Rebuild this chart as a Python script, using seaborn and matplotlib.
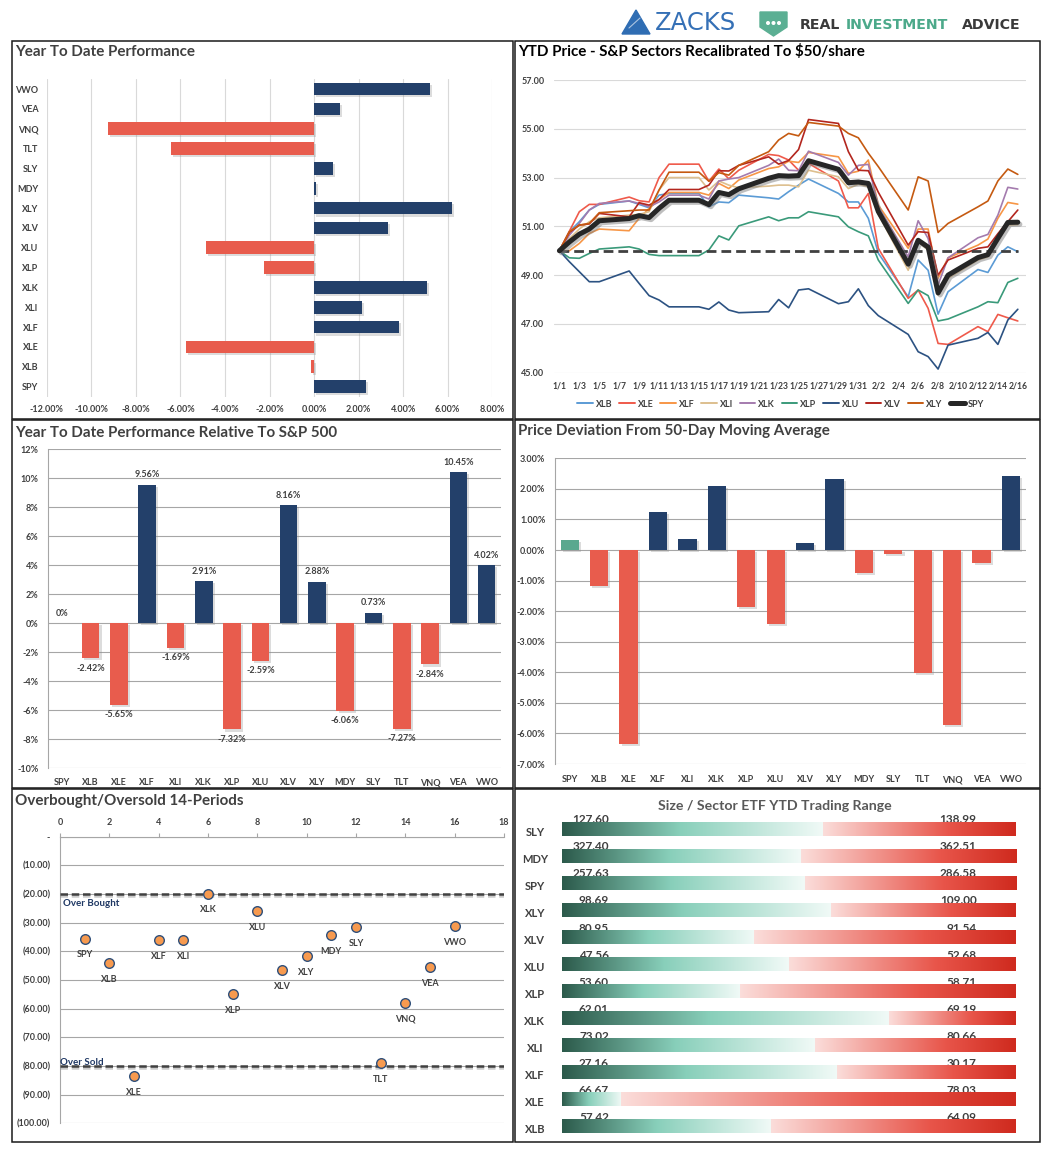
import matplotlib
matplotlib.use("Agg")
import matplotlib.pyplot as plt
import matplotlib.patheffects as pe
from matplotlib.colors import LinearSegmentedColormap
from matplotlib.lines import Line2D
from matplotlib.patches import Rectangle, Polygon, Circle
import numpy as np
import pandas as pd
import seaborn as sns

# ---- data ----
tickers = ["SPY", "XLB", "XLE", "XLF", "XLI", "XLK", "XLP", "XLU", "XLV", "XLY",
           "MDY", "SLY", "TLT", "VNQ", "VEA", "VWO"]
ytd_perf = [2.32, -0.12, -5.75, 3.80, 2.14, 5.05, -2.26, -4.86, 3.30, 6.17,
            0.10, 0.85, -6.43, -9.24, 1.15, 5.19]
rel_perf = [0.00, -2.42, -5.65, 9.56, -1.69, 2.91, -7.32, -2.59, 8.16, 2.88,
            -6.06, 0.73, -7.27, -2.84, 10.45, 4.02]
dev_50dma = [0.32, -1.17, -6.33, 1.23, 0.35, 2.09, -1.86, -2.41, 0.22, 2.31,
             -0.75, -0.13, -4.02, -5.71, -0.43, 2.41]
osc_pos = [1, 2, 3, 4, 5, 6, 7, 8, 9, 10, 11, 12, 13, 14, 15, 16]
osc_14 = [-35.7, -44.2, -83.6, -36.2, -36.2, -20.0, -55.0, -26.0, -46.6, -41.7,
          -34.4, -31.6, -79.1, -58.1, -45.6, -31.3]

price_dates = ["1/1", "1/2", "1/3", "1/4", "1/5", "1/8", "1/9", "1/10", "1/11", "1/12",
               "1/15", "1/16", "1/17", "1/18", "1/19", "1/22", "1/23", "1/24", "1/25", "1/26",
               "1/29", "1/30", "1/31", "2/1", "2/2", "2/5", "2/6", "2/7", "2/8", "2/9",
               "2/12", "2/13", "2/14", "2/15", "2/16"]
xlb = [50.00, 50.78, 51.19, 51.67, 51.90, 52.04, 51.90, 51.76, 52.28, 52.35, 52.35, 51.80,
       52.00, 51.97, 52.28, 52.17, 52.12, 52.42, 52.69, 52.94, 52.35, 52.00, 52.00, 51.33,
       49.90, 48.11, 49.62, 49.20, 47.40, 48.32, 49.23, 49.11, 49.82, 50.16, 49.96]
xle = [50.00, 50.80, 51.60, 51.90, 51.90, 52.20, 52.05, 52.00, 53.00, 53.55, 53.55, 52.85,
       53.35, 52.95, 53.30, 53.95, 53.90, 53.72, 53.30, 53.58, 52.86, 51.76, 51.76, 52.35,
       50.10, 48.05, 48.39, 47.64, 46.20, 46.16, 46.89, 46.68, 47.39, 47.25, 47.12]
xlf = [50.00, 50.00, 50.30, 50.71, 50.89, 50.82, 51.33, 51.73, 52.10, 52.39, 52.39, 52.28,
       52.76, 52.55, 52.90, 53.37, 53.44, 53.67, 53.62, 54.03, 53.85, 53.17, 53.26, 53.72,
       51.87, 50.10, 50.89, 50.89, 48.87, 49.71, 50.23, 50.48, 51.33, 51.98, 51.91]
xli = [50.00, 50.50, 50.89, 51.19, 51.35, 51.46, 51.49, 51.60, 52.49, 53.00, 53.00, 52.49,
       52.86, 52.69, 52.58, 52.65, 52.69, 52.69, 52.62, 53.30, 53.03, 52.55, 52.73, 52.62,
       51.50, 49.20, 50.37, 50.03, 48.18, 48.87, 49.62, 49.75, 50.44, 51.05, 51.07]
xlk = [50.00, 50.64, 51.12, 51.67, 51.94, 52.04, 51.94, 51.80, 52.00, 52.28, 52.28, 52.12,
       52.86, 52.94, 53.00, 53.50, 53.76, 53.30, 53.28, 54.08, 53.62, 53.10, 53.50, 53.54,
       51.80, 49.75, 51.23, 50.50, 48.60, 49.71, 50.53, 50.67, 51.46, 52.60, 52.53]
xlp = [50.00, 49.71, 49.69, 49.89, 50.07, 50.16, 50.07, 49.85, 49.80, 49.80, 49.80, 50.03,
       50.61, 50.44, 51.02, 51.39, 51.23, 51.35, 51.35, 51.60, 51.39, 50.98, 50.78, 50.61,
       49.62, 47.84, 48.39, 48.16, 47.12, 47.20, 47.70, 47.91, 47.87, 48.70, 48.87]
xlu = [50.00, 49.55, 49.14, 48.73, 48.73, 49.17, 48.66, 48.16, 47.98, 47.70, 47.70, 47.60,
       47.90, 47.57, 47.46, 47.50, 48.00, 47.66, 48.39, 48.44, 47.83, 47.91, 48.44, 47.75,
       47.34, 46.57, 45.86, 45.66, 45.15, 46.13, 46.41, 46.65, 46.16, 47.16, 47.60]
xlv = [50.00, 50.75, 51.05, 51.10, 51.53, 51.39, 51.97, 51.87, 52.10, 52.51, 52.51, 52.69,
       53.28, 53.27, 53.50, 53.85, 53.55, 53.70, 54.15, 55.38, 55.22, 54.06, 53.30, 53.28,
       52.40, 50.23, 50.78, 50.75, 49.00, 49.62, 50.10, 50.16, 50.70, 51.19, 51.67]
xly = [50.00, 50.78, 51.05, 51.12, 51.56, 51.64, 51.67, 51.67, 52.49, 53.22, 53.22, 52.85,
       53.20, 53.10, 53.50, 54.06, 54.54, 54.81, 54.71, 55.26, 55.11, 54.81, 54.63, 54.00,
       53.45, 51.67, 53.03, 52.86, 50.75, 51.12, 51.80, 52.04, 52.86, 53.35, 53.13]
spy = [50.00, 50.36, 50.68, 50.89, 51.23, 51.32, 51.44, 51.36, 51.74, 52.07, 52.07, 51.89,
       52.39, 52.30, 52.54, 52.97, 53.08, 53.06, 53.08, 53.69, 53.34, 52.79, 52.82, 52.76,
       51.61, 49.45, 50.43, 50.15, 48.27, 49.00, 49.72, 49.84, 50.51, 51.16, 51.17]

range_tickers = ["SLY", "MDY", "SPY", "XLY", "XLV", "XLU", "XLP", "XLK", "XLI", "XLF", "XLE", "XLB"]
range_low = [127.60, 327.40, 257.63, 98.69, 80.95, 47.56, 53.60, 62.01, 73.02, 27.16, 66.67, 57.42]
range_high = [138.99, 362.51, 286.58, 109.00, 91.54, 52.68, 58.71, 69.19, 80.66, 30.17, 78.03, 64.09]
range_pos = [0.575, 0.526, 0.535, 0.593, 0.424, 0.500, 0.393, 0.722, 0.559, 0.606, 0.130, 0.461]

# ---- style ----
NAVY = "#23406A"
RED = "#E85C4D"
TEAL = "#5AA88F"
TXT = "#404040"
line_colors = {"XLB": "#5B9BD5", "XLE": "#EF5A4B", "XLF": "#F79646", "XLI": "#DDBF8E",
               "XLK": "#A47BAE", "XLP": "#3A9A7A", "XLU": "#2C5282", "XLV": "#B3261E",
               "XLY": "#C55A11", "SPY": "#262626"}

sns.set_style("white")
plt.rcParams["font.family"] = ["Lato", "DejaVu Sans"]

W, H = 1057, 1152
fig = plt.figure(figsize=(W / 100, H / 100), dpi=100)


def px_axes(x0, y0, x1, y1):
    return fig.add_axes([x0 / W, 1 - y1 / H, (x1 - x0) / W, (y1 - y0) / H])


def bar_shadow(ax):
    for p in ax.patches:
        p.set_path_effects([pe.SimplePatchShadow(offset=(1.5, -1.5), shadow_rgbFace="#8c8c8c", alpha=0.3),
                            pe.Normal()])


def bold_ticks(ax):
    for lab in ax.get_xticklabels() + ax.get_yticklabels():
        lab.set_fontweight("bold")


tick_kw = dict(labelsize=6.5, labelcolor=TXT)
bar_kw = dict(dodge=False, legend=False, saturation=1, linewidth=0)

# ---- Year To Date Performance ----
ax1 = px_axes(46.7, 79.1, 492.3, 396.6)
tl = pd.DataFrame({"ETF": tickers, "ytd": ytd_perf}).iloc[::-1]
tl["sign"] = np.where(tl["ytd"] >= 0, "up", "down")
sns.barplot(data=tl, y="ETF", x="ytd", hue="sign", palette={"up": NAVY, "down": RED},
            orient="h", width=0.64, ax=ax1, **bar_kw)
bar_shadow(ax1)
ax1.set_xlim(-12, 8)
ax1.set_xticks(range(-12, 9, 2))
ax1.set_xticklabels([f"{v:.2f}%" for v in range(-12, 9, 2)])
ax1.grid(axis="x", color="#D9D9D9", lw=0.8)
ax1.set_axisbelow(True)
sns.despine(ax=ax1, left=True, bottom=True)
ax1.tick_params(length=0, pad=6, **tick_kw)
ax1.set_xlabel("")
ax1.set_ylabel("")
bold_ticks(ax1)

# ---- YTD price lines ----
ax2 = px_axes(554, 80, 1025.7, 372.7)
dates = pd.to_datetime(["2018/" + d for d in price_dates], format="%Y/%m/%d")
prices = pd.DataFrame({"date": dates, "XLB": xlb, "XLE": xle, "XLF": xlf, "XLI": xli,
                       "XLK": xlk, "XLP": xlp, "XLU": xlu, "XLV": xlv, "XLY": xly, "SPY": spy})
long = prices.melt(id_vars="date", var_name="ETF", value_name="price")
sns.lineplot(data=long[long["ETF"] != "SPY"], x="date", y="price", hue="ETF",
             palette=line_colors, linewidth=1.2, legend=False, ax=ax2)
ax2.hlines(50, dates[0], dates[-1], colors="#404040", lw=2.0, linestyles=(0, (3.5, 1.8)), zorder=3)
sns.lineplot(data=prices, x="date", y="SPY", color=line_colors["SPY"], linewidth=3.6, ax=ax2,
             path_effects=[pe.SimpleLineShadow(offset=(1.5, -1.5), shadow_color="#7f7f7f", alpha=0.5),
                           pe.Normal()], zorder=4)
ax2.set_xlim(dates[0] - pd.Timedelta(hours=13), dates[-1] + pd.Timedelta(hours=19))
ax2.set_ylim(45, 57)
ax2.set_yticks(range(45, 58, 2))
ax2.set_yticklabels([f"{v:.2f}" for v in range(45, 58, 2)])
tick_dates = pd.date_range("2018-01-01", "2018-02-16", freq="2D")
ax2.set_xticks(tick_dates)
ax2.set_xticklabels([f"{d.month}/{d.day}" for d in tick_dates])
ax2.grid(axis="y", color="#D9D9D9", lw=0.8)
sns.despine(ax=ax2, left=True, bottom=True)
ax2.tick_params(axis="y", length=0, pad=7, **tick_kw)
ax2.tick_params(axis="x", length=0, pad=6, labelsize=6.2, labelcolor=TXT)
ax2.set_xlabel("")
ax2.set_ylabel("")
bold_ticks(ax2)
handles = [Line2D([0], [0], color=line_colors[k], lw=3.6 if k == "SPY" else 1.4) for k in line_colors]
ax2.legend(handles, list(line_colors), loc="center", bbox_to_anchor=(0.481, -0.107), ncol=10,
           frameon=False, handlelength=1.7, columnspacing=0.75, handletextpad=0.35,
           prop={"size": 6.5, "weight": "bold"}, labelcolor=TXT)

# ---- YTD relative to S&P 500 ----
ax3 = px_axes(48.3, 449.3, 500.7, 768.3)
ml = pd.DataFrame({"ETF": tickers, "rel": rel_perf})
ml["sign"] = np.where(ml["rel"] >= 0, "up", "down")
sns.barplot(data=ml, x="ETF", y="rel", hue="sign", palette={"up": NAVY, "down": RED},
            width=0.62, ax=ax3, **bar_kw)
bar_shadow(ax3)
for i, v in enumerate(rel_perf):
    txt = "0%" if v == 0 else f"{v:.2f}%"
    ax3.annotate(txt, (i, v), xytext=(0, 7 if v >= 0 else -7), textcoords="offset points",
                 ha="center", va="center", fontsize=6.5, fontweight="bold", color=TXT)
ax3.set_ylim(-10, 12)
ax3.set_yticks(range(-10, 13, 2))
ax3.set_yticklabels([f"{v}%" for v in range(-10, 13, 2)])
ax3.grid(axis="y", color="#A6A6A6", lw=0.8)
ax3.set_axisbelow(True)
sns.despine(ax=ax3, bottom=True)
ax3.spines["left"].set_color("#A6A6A6")
ax3.tick_params(axis="y", length=3, color="#A6A6A6", pad=4, **tick_kw)
ax3.tick_params(axis="x", length=0, pad=7, **tick_kw)
ax3.set_xlabel("")
ax3.set_ylabel("")
bold_ticks(ax3)

# ---- deviation from 50-day MA ----
ax4 = px_axes(555, 458.3, 1025.7, 764)
mr = pd.DataFrame({"ETF": tickers, "dev": dev_50dma})
mr["grp"] = np.where(mr["ETF"] == "SPY", "bench", np.where(mr["dev"] >= 0, "up", "down"))
sns.barplot(data=mr, x="ETF", y="dev", hue="grp", palette={"bench": TEAL, "up": NAVY, "down": RED},
            width=0.62, ax=ax4, **bar_kw)
bar_shadow(ax4)
ax4.set_ylim(-7, 3)
ax4.set_yticks(range(-7, 4))
ax4.set_yticklabels([f"{v:.2f}%" for v in range(-7, 4)])
ax4.grid(axis="y", color="#A6A6A6", lw=0.8)
ax4.set_axisbelow(True)
sns.despine(ax=ax4, bottom=True)
ax4.spines["left"].set_color("#A6A6A6")
ax4.tick_params(axis="y", length=3, color="#A6A6A6", pad=4, **tick_kw)
ax4.tick_params(axis="x", length=0, pad=8, **tick_kw)
ax4.set_xlabel("")
ax4.set_ylabel("")
bold_ticks(ax4)

# ---- Overbought / Oversold ----
ax5 = px_axes(60, 836.7, 504, 1123.3)
for lvl in (-20, -80):
    ax5.axhline(lvl, color="#404040", lw=1.8, ls=(0, (3, 1.5)), zorder=3,
                path_effects=[pe.SimpleLineShadow(offset=(0, -1.5), shadow_color="#7f7f7f", alpha=0.4),
                              pe.Normal()])
sns.scatterplot(x=osc_pos, y=osc_14, color="#F79A4F", edgecolor="#2F4F7A", linewidth=1.0,
                s=48, zorder=4, ax=ax5)
for x, y, t in zip(osc_pos, osc_14, tickers):
    ax5.annotate(t, (x, y), xytext=(0, -11.5), textcoords="offset points", ha="center",
                 va="center", fontsize=6.5, fontweight="bold", color=TXT)
ax5.text(0.13, -21.6, "Over Bought", ha="left", va="top", fontsize=7, fontweight="bold", color="#1F3864")
ax5.text(0.0, -80.4, "Over Sold", ha="left", va="bottom", fontsize=7, fontweight="bold", color="#1F3864")
ax5.set_xlim(0, 18)
ax5.set_ylim(-100, 0)
ax5.xaxis.tick_top()
ax5.set_xticks(range(0, 19, 2))
ax5.set_yticks(range(-100, 1, 10))
ax5.set_yticklabels(["-" if v == 0 else f"({abs(v):.2f})" for v in range(-100, 1, 10)])
ax5.grid(axis="y", color="#A6A6A6", lw=0.8)
ax5.set_axisbelow(True)
for side in ("bottom", "right"):
    ax5.spines[side].set_visible(False)
for side in ("left", "top"):
    ax5.spines[side].set_color("#A6A6A6")
ax5.tick_params(axis="both", length=3, color="#A6A6A6", pad=4, **tick_kw)
bold_ticks(ax5)

# ---- Trading range gradient bars ----
ax6 = px_axes(561.7, 801.85, 1015.7, 1140.2)
green = LinearSegmentedColormap.from_list("g", [(0, "#2C5A4B"), (0.45, "#88CFBA"), (1, "#F1FAF7")])
reds = LinearSegmentedColormap.from_list("r", [(0, "#FBDDDA"), (0.65, "#E8554A"), (1, "#CF2A1E")])
ramp = np.linspace(0, 1, 256)[None, :]
for i, (t, lo, hi, pos) in enumerate(zip(range_tickers, range_low, range_high, range_pos)):
    ax6.imshow(ramp, cmap=green, extent=(0, pos, i + 0.25, i - 0.25), aspect="auto",
               interpolation="bilinear", zorder=2)
    ax6.imshow(ramp, cmap=reds, extent=(pos, 1, i + 0.25, i - 0.25), aspect="auto",
               interpolation="bilinear", zorder=2)
    ax6.text(0.104, i - 0.21, f"{lo:.2f}", ha="right", va="baseline", fontsize=8.5,
             fontweight="bold", color=TXT, zorder=1)
    ax6.text(0.914, i - 0.21, f"{hi:.2f}", ha="right", va="baseline", fontsize=8.5,
             fontweight="bold", color=TXT, zorder=1)
    ax6.text(-0.059, i + 0.12, t, ha="center", va="center", fontsize=8, fontweight="bold", color=TXT)
ax6.set_xlim(0, 1)
ax6.set_ylim(11.5, -1.0)
ax6.axis("off")

# ---- frames, titles, header ----
bg = fig.add_axes([0, 0, 1, 1], zorder=5)
bg.set_xlim(0, W)
bg.set_ylim(H, 0)
bg.axis("off")
bg.patch.set_visible(False)
for x0, y0, x1, y1 in [(12, 41, 513, 419), (515, 41, 1040, 419), (12, 420, 513, 788),
                       (515, 420, 1040, 788), (12, 789, 513, 1142), (515, 789, 1040, 1142)]:
    bg.add_patch(Rectangle((x0, y0), x1 - x0, y1 - y0, fill=False, ec="#1a1a1a", lw=1.1))

title_kw = dict(fontsize=10.9, fontweight="bold", va="center")
bg.text(15, 52, "Year To Date Performance", color=TXT, ha="left", **title_kw)
bg.text(518, 52, "YTD Price - S&P Sectors Recalibrated To $50/share", color="black", ha="left", **title_kw)
bg.text(15, 433, "Year To Date Performance Relative To S&P 500", color=TXT, ha="left", **title_kw)
bg.text(518, 431, "Price Deviation From 50-Day Moving Average", color=TXT, ha="left", **title_kw)
bg.text(15, 801, "Overbought/Oversold 14-Periods", color=TXT, ha="left", **title_kw)
bg.text(775, 806, "Size / Sector ETF YTD Trading Range", color="#595959", ha="center",
        **dict(title_kw, fontsize=10.2))

bg.add_patch(Polygon([(622, 34), (636, 10), (650, 34)], closed=True, color="#2F6DB3"))
bg.plot([629, 640], [28, 18], color="white", lw=0.8, alpha=0.6)
bg.text(655, 23, "ZACKS", ha="left", va="center", fontsize=17.5, color="#3570B6", family="DejaVu Sans")
bg.add_patch(Polygon([(760, 12), (787, 12), (787, 27), (773.5, 36), (760, 27)], closed=True, color="#5BAF93"))
for cx in (768, 773.5, 779):
    bg.add_patch(Circle((cx, 23), 1.3, color="white"))
hdr = dict(va="center", ha="left", fontsize=10.2, fontweight="bold", family="DejaVu Sans")
bg.text(800, 25, "REAL", color="#3A3A3A", **hdr)
bg.text(846, 25, "INVESTMENT", color="#4CA98A", **hdr)
bg.text(962, 25, "ADVICE", color="#3A3A3A", **hdr)

fig.savefig("out.png", dpi=100, facecolor="white")
